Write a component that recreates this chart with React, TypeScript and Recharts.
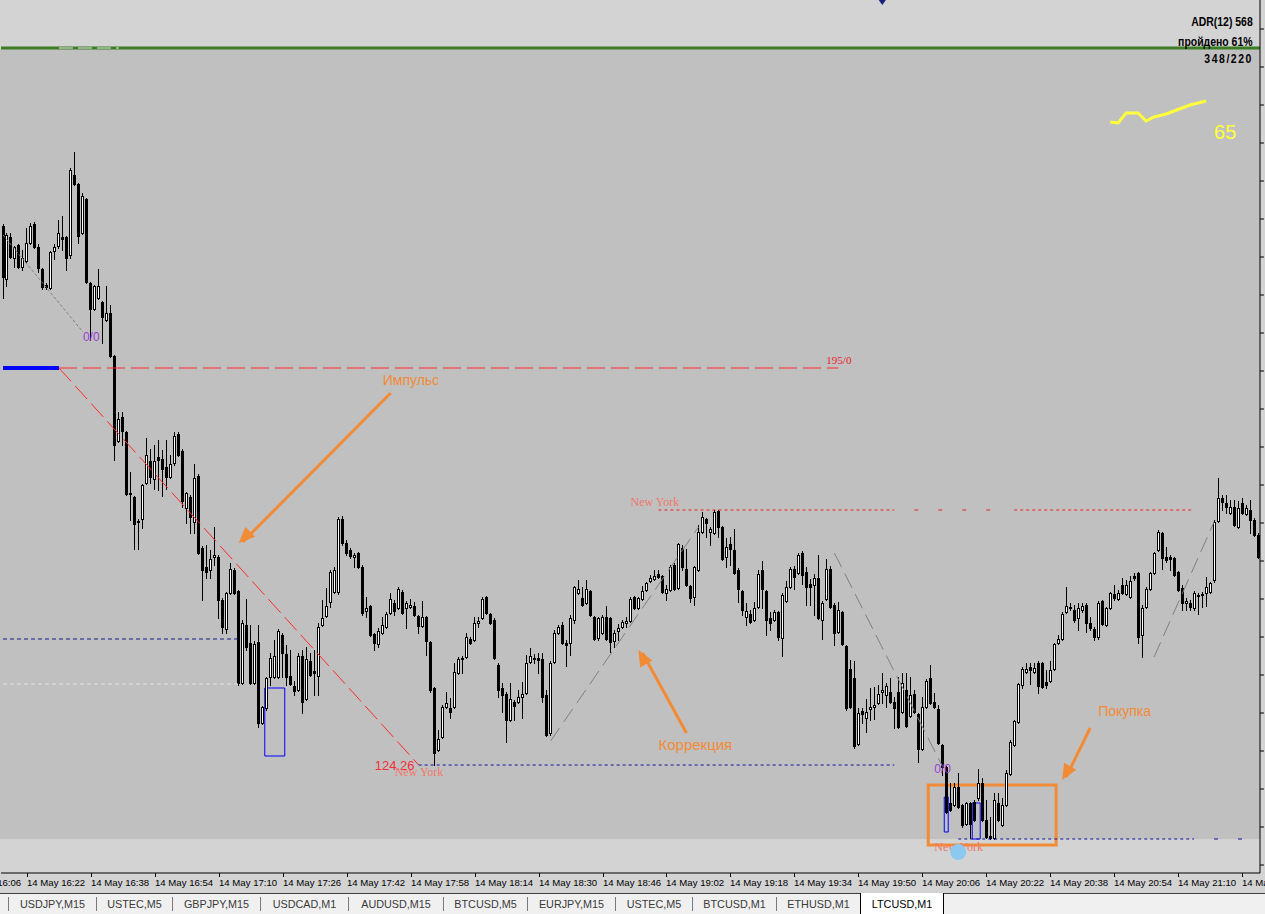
import React from "react";
import {
  ComposedChart,
  Bar,
  Line,
  XAxis,
  YAxis,
  ReferenceLine,
  ReferenceArea,
  ReferenceDot,
} from "recharts";

// LTCUSD, M1, 14 May 16:16 .. 21:30 — prices in cents
const OPEN = [
  8774, 8721, 8763, 8742, 8755, 8733, 8739, 8757, 8776, 8753,
  8731, 8715, 8712, 8749, 8754, 8763, 8763, 8745, 8825, 8816,
  8767, 8801, 8717, 8691, 8702, 8698, 8680, 8687, 8644, 8559,
  8583, 8568, 8507, 8503, 8478, 8481, 8517, 8539, 8521, 8543,
  8541, 8533, 8523, 8537, 8566, 8549, 8492, 8503, 8478, 8524,
  8452, 8433, 8430, 8443, 8443, 8400, 8371, 8407, 8430, 8409,
  8317, 8375, 8357, 8317, 8358, 8277, 8292, 8323, 8323, 8323,
  8365, 8346, 8324, 8314, 8310, 8344, 8301, 8339, 8329, 8324,
  8375, 8384, 8398, 8408, 8408, 8481, 8457, 8450, 8443, 8447,
  8433, 8389, 8394, 8366, 8356, 8367, 8373, 8387, 8397, 8392,
  8408, 8392, 8393, 8394, 8384, 8374, 8383, 8358, 8312, 8250,
  8263, 8293, 8292, 8293, 8327, 8341, 8343, 8361, 8360, 8377,
  8382, 8403, 8386, 8380, 8335, 8312, 8306, 8280, 8298, 8298,
  8303, 8307, 8338, 8341, 8342, 8341, 8305, 8267, 8338, 8367,
  8375, 8357, 8357, 8380, 8407, 8402, 8397, 8409, 8383, 8362,
  8367, 8383, 8382, 8359, 8369, 8373, 8377, 8379, 8403, 8392,
  8401, 8410, 8419, 8421, 8426, 8424, 8407, 8410, 8435, 8412,
  8452, 8431, 8414, 8403, 8430, 8468, 8481, 8468, 8467, 8489,
  8473, 8443, 8456, 8450, 8430, 8409, 8383, 8386, 8380, 8393,
  8430, 8409, 8382, 8380, 8388, 8362, 8399, 8413, 8431, 8427,
  8447, 8428, 8416, 8415, 8422, 8380, 8401, 8431, 8395, 8368,
  8388, 8354, 8331, 8322, 8256, 8289, 8282, 8291, 8293, 8297,
  8308, 8305, 8308, 8298, 8308, 8288, 8310, 8284, 8306, 8286,
  8251, 8293, 8322, 8298, 8291, 8255, 8233, 8197, 8195, 8213,
  8195, 8176, 8197, 8198, 8202, 8217, 8180, 8164, 8162, 8197,
  8175, 8195, 8226, 8255, 8278, 8315, 8328, 8333, 8328, 8337,
  8337, 8318, 8319, 8331, 8357, 8361, 8388, 8392, 8390, 8382,
  8390, 8395, 8377, 8371, 8363, 8399, 8375, 8392, 8406, 8401,
  8415, 8406, 8403, 8424, 8427, 8365, 8393, 8411, 8427, 8450,
  8467, 8443, 8443, 8442, 8428, 8412, 8397, 8397, 8392, 8404,
  8405, 8407, 8408, 8420, 8479, 8502, 8497, 8487, 8493, 8473,
  8497, 8486, 8490, 8480, 8465,
];

const HIGH = [
  8776, 8767, 8767, 8754, 8756, 8750, 8772, 8777, 8778, 8756,
  8732, 8717, 8749, 8756, 8780, 8784, 8764, 8832, 8848, 8817,
  8807, 8802, 8718, 8715, 8731, 8699, 8714, 8695, 8645, 8588,
  8588, 8569, 8528, 8504, 8481, 8516, 8562, 8551, 8555, 8560,
  8550, 8560, 8545, 8568, 8568, 8551, 8508, 8505, 8536, 8526,
  8454, 8455, 8450, 8473, 8445, 8402, 8408, 8437, 8432, 8410,
  8380, 8401, 8375, 8359, 8375, 8294, 8323, 8347, 8360, 8371,
  8367, 8355, 8350, 8319, 8347, 8350, 8353, 8347, 8350, 8377,
  8400, 8412, 8430, 8433, 8483, 8484, 8460, 8452, 8447, 8448,
  8435, 8403, 8395, 8367, 8372, 8383, 8388, 8407, 8400, 8413,
  8410, 8399, 8401, 8398, 8385, 8399, 8384, 8359, 8313, 8270,
  8295, 8308, 8302, 8337, 8343, 8344, 8367, 8363, 8383, 8383,
  8403, 8404, 8387, 8382, 8337, 8317, 8308, 8317, 8300, 8310,
  8318, 8345, 8352, 8346, 8347, 8347, 8310, 8339, 8370, 8375,
  8378, 8360, 8385, 8414, 8420, 8413, 8420, 8410, 8384, 8383,
  8385, 8394, 8383, 8370, 8376, 8380, 8383, 8403, 8404, 8403,
  8414, 8418, 8425, 8430, 8430, 8425, 8415, 8435, 8437, 8457,
  8455, 8451, 8415, 8434, 8475, 8488, 8482, 8473, 8490, 8490,
  8474, 8462, 8463, 8471, 8432, 8410, 8397, 8390, 8398, 8430,
  8439, 8410, 8388, 8390, 8389, 8407, 8419, 8433, 8434, 8447,
  8449, 8433, 8421, 8426, 8445, 8399, 8441, 8434, 8397, 8398,
  8389, 8355, 8340, 8339, 8292, 8292, 8301, 8312, 8313, 8315,
  8327, 8317, 8322, 8303, 8323, 8327, 8327, 8323, 8310, 8287,
  8303, 8321, 8335, 8307, 8295, 8256, 8234, 8217, 8217, 8227,
  8196, 8198, 8198, 8200, 8231, 8222, 8200, 8183, 8207, 8207,
  8202, 8230, 8260, 8280, 8317, 8333, 8337, 8337, 8337, 8339,
  8338, 8330, 8339, 8357, 8365, 8388, 8413, 8397, 8395, 8397,
  8397, 8397, 8383, 8373, 8399, 8400, 8393, 8408, 8415, 8410,
  8422, 8420, 8424, 8427, 8428, 8395, 8413, 8428, 8448, 8470,
  8468, 8453, 8445, 8443, 8429, 8415, 8402, 8400, 8409, 8407,
  8408, 8423, 8418, 8480, 8522, 8505, 8505, 8500, 8500, 8499,
  8502, 8495, 8500, 8482, 8467,
];

const LOW = [
  8702, 8714, 8742, 8733, 8732, 8730, 8738, 8756, 8752, 8728,
  8711, 8711, 8711, 8741, 8752, 8750, 8730, 8742, 8815, 8757,
  8766, 8717, 8660, 8690, 8701, 8657, 8679, 8643, 8540, 8558,
  8555, 8505, 8480, 8451, 8451, 8472, 8516, 8517, 8511, 8510,
  8504, 8511, 8522, 8535, 8544, 8493, 8477, 8467, 8467, 8446,
  8400, 8422, 8422, 8435, 8382, 8367, 8367, 8406, 8406, 8315,
  8316, 8350, 8316, 8316, 8273, 8276, 8290, 8315, 8322, 8322,
  8323, 8315, 8315, 8305, 8309, 8287, 8300, 8324, 8305, 8305,
  8374, 8383, 8393, 8407, 8406, 8455, 8445, 8442, 8433, 8432,
  8385, 8383, 8364, 8350, 8353, 8366, 8372, 8386, 8385, 8391,
  8386, 8372, 8392, 8384, 8367, 8373, 8345, 8308, 8235, 8249,
  8262, 8292, 8282, 8292, 8326, 8327, 8342, 8356, 8359, 8373,
  8381, 8386, 8376, 8341, 8303, 8288, 8258, 8279, 8280, 8297,
  8282, 8306, 8337, 8337, 8327, 8298, 8264, 8265, 8337, 8366,
  8356, 8334, 8345, 8377, 8406, 8394, 8396, 8384, 8360, 8360,
  8366, 8360, 8348, 8353, 8360, 8372, 8373, 8378, 8391, 8391,
  8400, 8409, 8418, 8420, 8422, 8407, 8400, 8409, 8410, 8411,
  8430, 8414, 8398, 8395, 8429, 8467, 8463, 8455, 8466, 8463,
  8440, 8433, 8435, 8426, 8398, 8385, 8375, 8377, 8379, 8392,
  8392, 8365, 8370, 8379, 8360, 8344, 8398, 8412, 8411, 8426,
  8416, 8395, 8395, 8385, 8381, 8361, 8400, 8392, 8355, 8367,
  8355, 8290, 8292, 8252, 8255, 8277, 8268, 8280, 8281, 8296,
  8297, 8293, 8297, 8272, 8272, 8287, 8273, 8283, 8287, 8238,
  8250, 8292, 8296, 8292, 8256, 8225, 8187, 8189, 8194, 8192,
  8173, 8175, 8162, 8179, 8200, 8179, 8162, 8161, 8161, 8179,
  8174, 8194, 8225, 8254, 8277, 8312, 8327, 8316, 8327, 8307,
  8312, 8312, 8318, 8330, 8356, 8360, 8387, 8390, 8378, 8370,
  8388, 8368, 8370, 8360, 8361, 8375, 8374, 8391, 8400, 8400,
  8406, 8405, 8402, 8420, 8357, 8343, 8392, 8410, 8426, 8449,
  8431, 8438, 8430, 8424, 8409, 8390, 8390, 8390, 8390, 8386,
  8393, 8394, 8407, 8418, 8478, 8490, 8487, 8486, 8474, 8472,
  8486, 8485, 8467, 8464, 8442,
];

const CLOSE = [
  8723, 8765, 8743, 8753, 8733, 8742, 8757, 8774, 8753, 8732,
  8713, 8713, 8748, 8753, 8767, 8761, 8742, 8830, 8816, 8764,
  8804, 8718, 8691, 8714, 8714, 8683, 8687, 8644, 8555, 8581,
  8569, 8506, 8506, 8476, 8479, 8515, 8545, 8523, 8539, 8540,
  8531, 8523, 8536, 8564, 8545, 8499, 8507, 8483, 8522, 8447,
  8430, 8428, 8441, 8445, 8400, 8373, 8407, 8431, 8407, 8317,
  8377, 8353, 8317, 8356, 8277, 8293, 8322, 8342, 8344, 8369,
  8347, 8323, 8316, 8309, 8344, 8298, 8341, 8325, 8327, 8373,
  8382, 8394, 8428, 8430, 8481, 8457, 8447, 8444, 8445, 8433,
  8387, 8392, 8365, 8357, 8369, 8375, 8386, 8401, 8389, 8411,
  8387, 8397, 8395, 8385, 8374, 8383, 8359, 8310, 8247, 8261,
  8293, 8297, 8288, 8328, 8341, 8342, 8363, 8357, 8377, 8379,
  8401, 8387, 8377, 8342, 8310, 8305, 8280, 8301, 8294, 8303,
  8306, 8337, 8344, 8342, 8340, 8303, 8265, 8337, 8367, 8373,
  8357, 8355, 8382, 8413, 8411, 8395, 8411, 8385, 8361, 8382,
  8383, 8361, 8358, 8367, 8372, 8378, 8379, 8401, 8392, 8402,
  8409, 8417, 8422, 8424, 8423, 8408, 8411, 8433, 8411, 8456,
  8433, 8415, 8402, 8433, 8468, 8483, 8477, 8471, 8488, 8473,
  8441, 8453, 8451, 8427, 8411, 8390, 8389, 8378, 8392, 8426,
  8411, 8380, 8377, 8388, 8363, 8405, 8413, 8431, 8423, 8445,
  8425, 8413, 8413, 8422, 8382, 8397, 8431, 8393, 8367, 8390,
  8356, 8292, 8293, 8254, 8287, 8286, 8288, 8293, 8295, 8306,
  8310, 8314, 8298, 8292, 8273, 8317, 8274, 8305, 8288, 8251,
  8293, 8319, 8297, 8293, 8257, 8233, 8188, 8190, 8213, 8193,
  8175, 8197, 8176, 8180, 8217, 8180, 8163, 8162, 8200, 8180,
  8195, 8227, 8258, 8279, 8316, 8331, 8331, 8330, 8332, 8314,
  8313, 8315, 8330, 8356, 8361, 8386, 8394, 8393, 8380, 8392,
  8394, 8377, 8372, 8363, 8397, 8376, 8392, 8407, 8402, 8407,
  8407, 8415, 8419, 8422, 8363, 8392, 8411, 8427, 8447, 8468,
  8442, 8440, 8441, 8425, 8410, 8397, 8399, 8393, 8407, 8405,
  8406, 8413, 8417, 8478, 8502, 8498, 8493, 8493, 8475, 8492,
  8487, 8492, 8480, 8465, 8443,
];

const START_MIN = 16 * 60 + 16;
const TIMES = OPEN.map((_, i) => {
  const m = START_MIN + i;
  return `${Math.floor(m / 60)}:${String(m % 60).padStart(2, "0")}`;
});

const PREV_TICK = "16:06";
const TIME_TICKS = [
  "16:22", "16:38", "16:54", "17:10", "17:26", "17:42", "17:58", "18:14", "18:30", "18:46",
  "19:02", "19:18", "19:34", "19:50", "20:06", "20:22", "20:38", "20:54", "21:10", "21:26",
];

const PRICE_TICKS = [
  89.71, 89.33, 88.95, 88.57, 88.19, 87.81, 87.43, 87.05, 86.67, 86.29, 85.91, 85.53,
  85.15, 84.77, 84.39, 84.01, 83.63, 83.25, 82.87, 82.49, 82.11, 81.73, 81.35,
];

// small indicator line in the top-right corner
const YEL_AT = [277, 279, 281, 284, 286, 288, 291, 295, 297, 301];
const YEL_VAL = [88.78, 88.77, 88.87, 88.87, 88.79, 88.83, 88.86, 88.92, 88.95, 88.99];

const TABS = [
  "USDJPY,M15", "USTEC,M5", "GBPJPY,M15", "USDCAD,M1", "AUDUSD,M15", "BTCUSD,M5",
  "EURJPY,M15", "USTEC,M5", "BTCUSD,M1", "ETHUSD,M1", "LTCUSD,M1",
];
const TAB_W = [88, 76, 88, 88, 95, 84, 88, 77, 84, 84, 84];
const ACTIVE_TAB = 10;

const W = 1265;
const CHART_H = 893;
const PLOT_W = 1259;
const BAND = PLOT_W / OPEN.length;
const ORANGE = "#F28B36";
const SANS = "'Liberation Sans', Arial, sans-serif";
const SERIF = "'Liberation Serif', 'Times New Roman', serif";

const data = OPEN.map((o, i) => ({
  t: TIMES[i],
  o: o / 100,
  h: HIGH[i] / 100,
  l: LOW[i] / 100,
  c: CLOSE[i] / 100,
  hl: [LOW[i] / 100, HIGH[i] / 100],
  yel: null as number | null,
}));
YEL_AT.forEach((at, k) => {
  data[at].yel = YEL_VAL[k];
});

const seg = (i1: number, p1: number, i2: number, p2: number) => [
  { x: TIMES[i1], y: p1 },
  { x: TIMES[i2], y: p2 },
];

function Candle(props: any) {
  const { x, y, width, height, payload } = props;
  if (!payload) return null;
  const top = Math.min(y, y + height);
  const bot = Math.max(y, y + height);
  const k = (bot - top) / (payload.h - payload.l || 1);
  const py = (v: number) => Math.round(top + (payload.h - v) * k);
  const col = Math.floor(x + width / 2);
  const yo = py(payload.o);
  const yc = py(payload.c);
  const b0 = Math.min(yo, yc);
  const b1 = Math.max(yo, yc);
  const up = payload.c > payload.o;
  return (
    <g shapeRendering="crispEdges">
      <line x1={col + 0.5} x2={col + 0.5} y1={Math.round(top)} y2={Math.round(bot) + 1} stroke="#000" />
      {up ? (
        <rect x={col - 0.5} y={b0 + 0.5} width={2} height={Math.max(b1 - b0, 1)} fill="#fff" stroke="#000" />
      ) : (
        <rect x={col - 1} y={b0} width={3} height={b1 - b0 + 1} fill="#000" />
      )}
    </g>
  );
}

function TimeTick(props: any) {
  const { x, y, payload, index } = props;
  const tx = Math.round(x) + 0.5;
  const one = (px: number, v: string) => (
    <g key={v}>
      <line x1={px} x2={px} y1={y} y2={y + 4} stroke="#000" shapeRendering="crispEdges" />
      <text x={px - 0.5} y={y + 12.5} fontSize={9.6} fontFamily={SANS} fill="#000">
        {`14 May ${v}`}
      </text>
    </g>
  );
  return (
    <g>
      {index === 0 && one(tx - 16 * BAND, PREV_TICK)}
      {one(tx, payload.value)}
    </g>
  );
}

const text = (value: string, fill: string, size: number, family: string, extra: any = {}) =>
  (p: any) => (
    <text x={p.cx} y={p.cy} fill={fill} fontSize={size} fontFamily={family} {...extra}>
      {value}
    </text>
  );

const arrowHead = (deg: number) => (p: any) => (
  <polygon
    points="0,0 -16,-7 -16,7"
    fill={ORANGE}
    transform={`translate(${p.cx},${p.cy}) rotate(${deg})`}
  />
);

const EmptyTick = () => <g />;

const adrLine = (top: number, spacing = 0): React.CSSProperties => ({
  position: "absolute",
  right: 0,
  top,
  whiteSpace: "nowrap",
  letterSpacing: spacing,
  transform: "scaleX(0.87)",
  transformOrigin: "right center",
});

export default function App() {
  return (
    <div style={{ position: "relative", width: W, height: 914, background: "#D3D3D3", overflow: "hidden" }}>
      <style>{`body{margin:0}`}</style>
      {/* left pixel column of the range box, outside the plot */}
      <div style={{ position: "absolute", left: 0, top: 49, width: 1, height: 790, background: "#C0C0C0" }} />
      <ComposedChart
        width={W}
        height={CHART_H}
        data={data}
        margin={{ top: 0, right: 0, bottom: 0, left: 1 }}
        barCategoryGap={0}
        barGap={0}
      >
        <XAxis
          dataKey="t"
          ticks={TIME_TICKS}
          interval={0}
          height={20}
          tickLine={false}
          tickSize={0}
          tickMargin={0}
          axisLine={{ stroke: "#000" }}
          tick={<TimeTick />}
        />
        <YAxis
          orientation="right"
          width={5}
          domain={[81.27, 90]}
          allowDataOverflow
          ticks={PRICE_TICKS}
          interval={0}
          tickSize={4}
          tickLine={{ stroke: "#000" }}
          axisLine={{ stroke: "#000" }}
          tick={EmptyTick}
        />

        {/* ADR range box */}
        <ReferenceArea y1={81.61} y2={89.51} fill="#C0C0C0" fillOpacity={1} stroke="none" />

        <ReferenceLine y={89.52} stroke="#3B7D23" strokeWidth={3} />
        <ReferenceLine segment={seg(14, 89.52, 29, 89.52)} stroke="#EDEDED" strokeDasharray="14 5" />

        <ReferenceLine segment={seg(0, 83.61, 59, 83.61)} stroke="#1A1A8C" strokeDasharray="4 3" />
        <ReferenceLine segment={seg(0, 83.16, 59, 83.16)} stroke="#E4E4E4" strokeDasharray="4 3" />

        {/* zigzag */}
        <ReferenceLine segment={seg(0, 87.65, 20, 86.68)} stroke="#808080" strokeDasharray="3 2" />
        <ReferenceLine segment={seg(137, 82.59, 174, 84.73)} stroke="#808080" strokeDasharray="16 7" />
        <ReferenceLine segment={seg(208, 84.47, 235, 82.34)} stroke="#808080" strokeDasharray="16 7" />
        <ReferenceLine segment={seg(288, 83.43, 303, 84.78)} stroke="#808080" strokeDasharray="16 7" />

        <Bar dataKey="hl" shape={<Candle />} isAnimationActive={false} />

        <Line
          dataKey="yel"
          stroke="#FFFF3C"
          strokeWidth={3}
          dot={false}
          connectNulls
          isAnimationActive={false}
        />

        {/* impulse level */}
        <ReferenceLine segment={seg(0, 86.32, 14, 86.32)} stroke="#0000FF" strokeWidth={4} />
        <ReferenceLine segment={seg(14, 86.32, 209, 86.32)} stroke="#FF2A2A" strokeDasharray="18 6" />
        <ReferenceLine segment={seg(14, 86.32, 104, 82.35)} stroke="#FF2A2A" strokeDasharray="18 6" />
        <ReferenceDot x={TIMES[206]} y={86.36} r={0} shape={text("195/0", "#E8202A", 11, SERIF)} />

        {/* session levels */}
        <ReferenceLine segment={seg(104, 82.35, 223, 82.35)} stroke="#10109C" strokeDasharray="3 3" />
        <ReferenceLine segment={seg(164, 84.9, 223, 84.9)} stroke="#F02020" strokeDasharray="3 3" />
        <ReferenceLine segment={seg(228, 84.9, 229, 84.9)} stroke="#F02020" />
        <ReferenceLine segment={seg(234, 84.9, 235, 84.9)} stroke="#F02020" />
        <ReferenceLine segment={seg(240, 84.9, 241, 84.9)} stroke="#F02020" />
        <ReferenceLine segment={seg(246, 84.9, 247, 84.9)} stroke="#F02020" />
        <ReferenceLine segment={seg(253, 84.9, 298, 84.9)} stroke="#F02020" strokeDasharray="3 3" />
        <ReferenceLine segment={seg(239, 81.61, 298, 81.61)} stroke="#10109C" strokeDasharray="3 3" />
        <ReferenceLine segment={seg(303, 81.61, 304, 81.61)} stroke="#10109C" />
        <ReferenceLine segment={seg(309, 81.61, 310, 81.61)} stroke="#10109C" />

        <ReferenceDot x={TIMES[93]} y={82.3} r={0} shape={text("124.26", "#F0303A", 13, SANS)} />
        <ReferenceDot x={TIMES[98]} y={82.24} r={0} shape={text("New York", "#F0786A", 12, SERIF)} />
        <ReferenceDot x={TIMES[157]} y={84.94} r={0} shape={text("New York", "#F0786A", 12, SERIF)} />
        <ReferenceDot x={TIMES[233]} y={81.49} r={0} shape={text("New York", "#F0786A", 12, SERIF)} />
        <ReferenceDot x={TIMES[20]} y={86.59} r={0} shape={text("0/0", "#9A3FD0", 12, SANS)} />
        <ReferenceDot x={TIMES[233]} y={82.27} r={0} shape={text("0/0", "#9A3FD0", 12, SANS)} />

        {/* boxes */}
        <ReferenceArea x1={TIMES[66]} x2={TIMES[70]} y1={82.44} y2={83.12} fill="none" stroke="#0000FF" />
        <ReferenceArea x1={TIMES[236]} x2={TIMES[236]} y1={81.68} y2={82.03} fill="none" stroke="#0000FF" />
        <ReferenceArea x1={TIMES[243]} x2={TIMES[244]} y1={81.61} y2={81.97} fill="none" stroke="#0000FF" />
        <ReferenceArea
          x1={TIMES[232]}
          x2={TIMES[263]}
          y1={81.55}
          y2={82.15}
          fill="none"
          stroke={ORANGE}
          strokeWidth={3}
        />

        {/* annotations */}
        <ReferenceLine segment={seg(97, 86.07, 60, 84.58)} stroke={ORANGE} strokeWidth={3} />
        <ReferenceDot x={TIMES[59]} y={84.57} r={0} shape={arrowHead(135.6)} />
        <ReferenceDot x={TIMES[95]} y={86.15} r={0} shape={text("Импульс", ORANGE, 14, SANS)} />

        <ReferenceLine segment={seg(171, 82.67, 160, 83.47)} stroke={ORANGE} strokeWidth={3} />
        <ReferenceDot x={TIMES[159]} y={83.5} r={0} shape={arrowHead(-119)} />
        <ReferenceDot x={TIMES[164]} y={82.5} r={0} shape={text("Коррекция", ORANGE, 15, SANS)} />

        <ReferenceLine segment={seg(272, 82.72, 266, 82.23)} stroke={ORANGE} strokeWidth={3} />
        <ReferenceDot x={TIMES[265]} y={82.2} r={0} shape={arrowHead(120)} />
        <ReferenceDot x={TIMES[274]} y={82.84} r={0} shape={text("Покупка", ORANGE, 14, SANS)} />

        <ReferenceDot x={TIMES[239]} y={81.48} r={8} fill="#8CC8F0" stroke="none" ifOverflow="visible" />
        <ReferenceDot
          x={TIMES[220]}
          y={90}
          r={0}
          ifOverflow="visible"
          shape={(p: any) => (
            <polygon points={`${p.cx - 5},${p.cy - 2} ${p.cx + 5},${p.cy - 2} ${p.cx},${p.cy + 5}`} fill="#15207A" />
          )}
        />
        <ReferenceDot x={TIMES[303]} y={88.61} r={0} shape={text("65", "#FFFF3C", 20, SANS)} />
      </ComposedChart>

      {/* ADR panel */}
      <div
        style={{
          position: "absolute",
          right: 12,
          top: 0,
          width: 120,
          height: 70,
          fontFamily: SANS,
          fontWeight: 700,
          fontSize: 12,
          lineHeight: "15px",
          color: "#000",
        }}
      >
        <div style={adrLine(15)}>ADR(12) 568</div>
        <div style={adrLine(35)}>пройдено 61%</div>
        <div style={adrLine(52, 1.8)}>348/220</div>
      </div>

      {/* symbol tabs */}
      <div
        style={{
          position: "absolute",
          left: 0,
          top: CHART_H,
          width: W,
          height: 914 - CHART_H,
          background: "#F0F0F0",
          borderTop: "1px solid #404040",
          boxSizing: "border-box",
          display: "flex",
          alignItems: "stretch",
          paddingLeft: 8,
          fontFamily: SANS,
          fontSize: 10.8,
          color: "#3A3A3A",
        }}
      >
        {TABS.map((t, i) =>
          i === ACTIVE_TAB ? (
            <div
              key={i}
              style={{
                width: TAB_W[i],
                display: "flex",
                alignItems: "center",
                justifyContent: "center",
                background: "#fff",
                color: "#000",
                borderLeft: "1px solid #000",
                borderRight: "1px solid #000",
                boxSizing: "border-box",
                marginTop: -1,
              }}
            >
              {t}
            </div>
          ) : (
            <div key={i} style={{ width: TAB_W[i], display: "flex", alignItems: "center" }}>
              <div style={{ width: 1, height: 14, background: "#7A7A7A" }} />
              <div style={{ flex: 1, textAlign: "center" }}>{t}</div>
            </div>
          )
        )}
      </div>
    </div>
  );
}
